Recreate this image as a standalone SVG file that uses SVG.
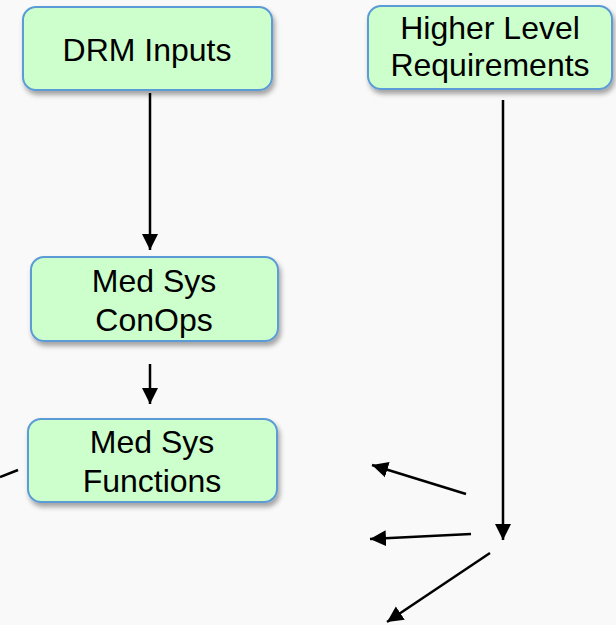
<svg xmlns="http://www.w3.org/2000/svg" width="616" height="625" viewBox="0 0 616 625">
<defs>
<filter id="sh" x="-10%" y="-20%" width="120%" height="150%">
<feDropShadow dx="2" dy="4" stdDeviation="2.5" flood-color="#000" flood-opacity="0.35"/>
</filter>
<marker id="ah" markerUnits="userSpaceOnUse" markerWidth="18" markerHeight="18" viewBox="0 0 18 18" refX="16" refY="9" orient="auto">
<path d="M0,1 L16,9 L0,17 Z" fill="#000"/>
</marker>
<style>
.box{fill:#ccffcc;stroke:#5b9bd5;stroke-width:2;filter:url(#sh)}
.t{font-family:"Liberation Sans",Arial,sans-serif;font-size:32px;fill:#000;text-anchor:middle}
.c{stroke:#000;stroke-width:2.5;fill:none}
.ca{stroke:#000;stroke-width:2.5;fill:none;marker-end:url(#ah)}
</style>
</defs>
<rect width="616" height="625" fill="#f9f9f9"/>
<g id="drm-inputs">
<rect class="box" x="23" y="7" width="249" height="83" rx="13"/>
<text class="t" x="147" y="61">DRM Inputs</text>
</g>
<g id="higher-level-requirements">
<rect class="box" x="368" y="6" width="244" height="83" rx="13"/>
<text class="t" x="490" y="39">Higher Level</text>
<text class="t" x="490" y="76">Requirements</text>
</g>
<g id="med-sys-conops">
<rect class="box" x="31" y="257" width="247" height="84" rx="13"/>
<text class="t" x="154" y="292">Med Sys</text>
<text class="t" x="154" y="331">ConOps</text>
</g>
<g id="med-sys-functions">
<rect class="box" x="28" y="419" width="249" height="83" rx="13"/>
<text class="t" x="152" y="453">Med Sys</text>
<text class="t" x="152" y="492">Functions</text>
</g>
<g id="connectors">
<line class="ca" x1="150" y1="93" x2="150" y2="250"/>
<line class="ca" x1="150" y1="364" x2="150" y2="404"/>
<line class="ca" x1="503" y1="100" x2="503" y2="540"/>
<line class="c" x1="0" y1="477" x2="18" y2="470"/>
<line class="ca" x1="466" y1="494" x2="372" y2="465"/>
<line class="ca" x1="471" y1="534" x2="370" y2="539"/>
<line class="ca" x1="490" y1="553" x2="387" y2="622"/>
</g>
</svg>
